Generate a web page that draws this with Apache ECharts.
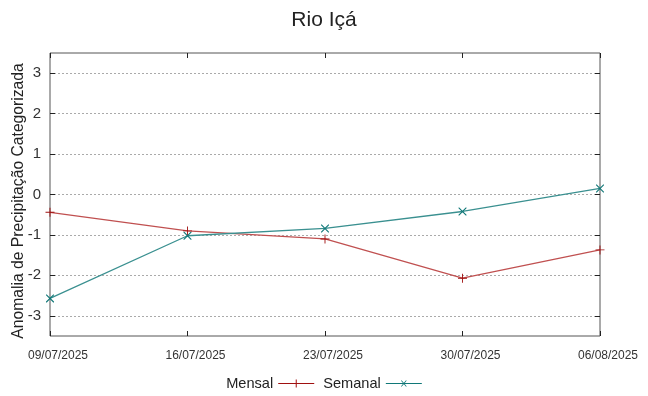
<!DOCTYPE html>
<html><head><meta charset="utf-8">
<script src="https://cdn.jsdelivr.net/npm/echarts@6/dist/echarts.min.js"></script>
<style>html,body{margin:0;padding:0;background:#fff}#c{width:648px;height:396px}</style>
</head><body><div id="c"></div>
<script>
var categories = ['09/07/2025','16/07/2025','23/07/2025','30/07/2025','06/08/2025'];
var mensal = [-0.44, -0.90, -1.10, -2.07, -1.37];
var semanal = [-2.57, -1.02, -0.84, -0.42, 0.15];
var yTicks = [-3, -2, -1, 0, 1, 2, 3];
var yTitle = 'Anomalia de Precipitação Categorizada';

var plusPath = 'path://M0,4.5 L10,4.5 L10,5.5 L0,5.5 Z M4.5,0 L5.5,0 L5.5,10 L4.5,10 Z';
var xPath = 'path://M0,0 L1,0 L10,9 L10,10 L9,10 L0,1 Z M9,0 L10,0 L10,1 L1,10 L0,10 L0,9 Z';
var legPlus = 'path://M0,4.6 L36,4.6 L36,5.4 L0,5.4 Z M17.5,1 L18.5,1 L18.5,9 L17.5,9 Z';
var legX = 'path://M0,4.6 L36,4.6 L36,5.4 L0,5.4 Z M15,2 L16,2 L21,8 L20,8 Z M20,2 L21,2 L16,8 L15,8 Z';

var chart = echarts.init(document.getElementById('c'));
var font = 'Liberation Sans, Arial, sans-serif';
chart.setOption({
  animation: false,
  title: { text: 'Rio Içá', left: 'center', top: 5, textStyle: { fontFamily: font, fontSize: 21, fontWeight: 'normal', color: '#222' } },
  legend: {
    bottom: 0, left: 'center', align: 'right', itemGap: 9, itemWidth: 36, itemHeight: 8,
    textStyle: { fontFamily: font, fontSize: 14.6, color: '#222' },
    data: [
      { name: 'Mensal', icon: legPlus, itemStyle: { color: '#a01010' } },
      { name: 'Semanal', icon: legX, itemStyle: { color: '#107878' } }
    ]
  },
  graphic: [{
    type: 'text', x: 18.5, y: 201, rotation: Math.PI / 2,
    style: { text: yTitle, font: '15.7px ' + font, fill: '#222', align: 'center', verticalAlign: 'middle' }
  }],
  grid: { left: 50, right: 48, top: 53, bottom: 60, show: true, borderColor: '#555', borderWidth: 1, containLabel: false, outerBoundsMode: 'none' },
  xAxis: [
    { type: 'category', data: categories, boundaryGap: false,
      axisLine: { show: false, onZero: false },
      axisTick: { show: true, inside: true, length: 5, lineStyle: { color: '#222' } },
      axisLabel: { fontFamily: font, fontSize: 12, color: '#333', margin: 14, padding: [0, 0, 0, 16] },
      splitLine: { show: false } },
    { type: 'category', data: categories, boundaryGap: false, position: 'top',
      axisLine: { show: false, onZero: false },
      axisTick: { show: true, inside: true, length: 5, lineStyle: { color: '#222' } },
      axisLabel: { show: false }, splitLine: { show: false } }
  ],
  yAxis: [
    { type: 'value', min: -3.5, max: 3.5,
      axisLine: { show: false },
      axisTick: { show: true, inside: true, length: 5, customValues: yTicks, lineStyle: { color: '#222' } },
      axisLabel: { fontFamily: font, fontSize: 15, color: '#333', margin: 9, customValues: yTicks },
      splitLine: { show: true, lineStyle: { color: '#aaa', type: [2, 2], width: 1 } } },
    { type: 'value', min: -3.5, max: 3.5, position: 'right',
      axisLine: { show: false },
      axisTick: { show: true, inside: true, length: 5, customValues: yTicks, lineStyle: { color: '#222' } },
      axisLabel: { show: false, customValues: yTicks }, splitLine: { show: false } }
  ],
  series: [
    { name: 'Mensal', type: 'line', data: mensal, symbol: plusPath, symbolSize: 9,
      lineStyle: { color: '#c05050', width: 1.3 }, itemStyle: { color: '#a01010' } },
    { name: 'Semanal', type: 'line', data: semanal, symbol: xPath, symbolSize: 8,
      lineStyle: { color: '#3a9090', width: 1.3 }, itemStyle: { color: '#107878' } }
  ]
});
</script></body></html>
